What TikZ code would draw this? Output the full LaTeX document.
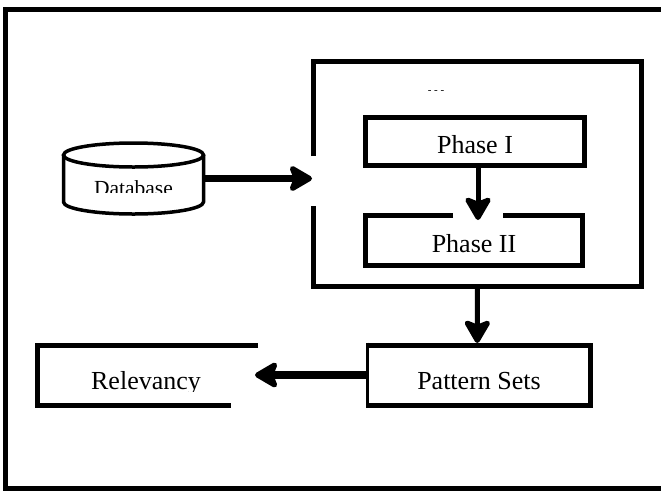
\documentclass[tikz,border=0pt]{standalone}
\usepackage{fontspec}
\setmainfont{Liberation Serif}
\usetikzlibrary{arrows.meta}

\tikzset{
  area/.style={draw=none, inner sep=0pt, outer sep=0pt},
  rim/.style={line width=5pt, line join=miter},
  label/.style={anchor=base, inner sep=0pt, font=\fontsize{26}{30}\selectfont},
  flow/.style={line width=6pt, -{Stealth[length=27pt, width=31pt, inset=6pt, round]}},
}

\begin{document}
\begin{tikzpicture}[x=1pt, y=-1pt]
  \useasboundingbox (0,0) rectangle (661,491);
  \fill[white] (0,0) rectangle (661,491);

  % outer frame (runs off the right side)
  \draw[rim] (661,9) -- (5.5,9) -- (5.5,488.5) -- (661,488.5);

  % --- invisible anchor nodes -------------------------------------------
  \node[area, minimum width=140pt, minimum height=59pt] (db)   at (133.5,184) {};
  \node[area, minimum width=328.5pt, minimum height=225.5pt] (mine) at (477.25,173.75) {};
  \node[area, minimum width=219pt, minimum height=48pt] (ph1)  at (475,141.5) {};
  \node[area, minimum width=217pt, minimum height=50pt] (ph2)  at (474,240.5) {};
  \node[area, minimum width=223pt, minimum height=60pt] (pat)  at (478.5,375) {};
  \node[area, minimum width=218pt, minimum height=60pt] (rel)  at (146,375) {};

  % --- database cylinder ----------------------------------------------------
  \filldraw[fill=white, line width=3.5pt]
    (63.5,155) -- (63.5,202)
    arc[start angle=180, end angle=360, x radius=70pt, y radius=12pt]
    -- (203.5,155);
  \draw[line width=3.5pt] (133.5,155) ellipse[x radius=70pt, y radius=12pt];
  \begin{scope}
    \clip (60,170) rectangle (210,192.5);
    \node[label, font=\fontsize{21.5}{25}\selectfont] (dbtext) at (133.5,195.5) {Database};
  \end{scope}

  % --- outer process box, left side open where the input enters ------------
  \draw[rim] (313,156) -- (313,61) -- (641.5,61) -- (641.5,286.5) -- (313,286.5) -- (313,206);
  \node[anchor=center, inner sep=0pt, font=\fontsize{11}{12}\selectfont] (dots) at (436,92) {- - -};

  % --- phase boxes ----------------------------------------------------------
  \draw[rim] (365.5,117.5) rectangle (584.5,165.5);
  \node[label] (ph1text) at (475,153) {Phase I};

  \draw[rim] (453,215.5) -- (365.5,215.5) -- (365.5,265.5) -- (582.5,265.5) -- (582.5,215.5) -- (503,215.5);
  \node[label] (ph2text) at (474,252) {Phase II};

  % --- pattern sets ---------------------------------------------------------
  \draw[rim] (367,345) -- (590,345) -- (590,405) -- (367,405);
  \draw[line width=3pt] (367,342.5) -- (367,407.5);
  \node[label] (pattext) at (479,389) {Pattern Sets};

  % --- relevancy (open on the right) ---------------------------------------
  \draw[rim] (258,345) -- (37,345) -- (37,405) -- (231,405);
  \begin{scope}
    \clip (40,350) rectangle (255,391);
    \node[label] (reltext) at (146,389) {Relevancy};
  \end{scope}

  % --- connectors -----------------------------------------------------------
  \draw[flow, line width=7pt] ([yshift=5.5pt]db.east) -- ([xshift=-1pt, yshift=-4.75pt]mine.west);
  \draw[flow, line width=5pt] ([xshift=3pt]ph1.south) -- ([xshift=4pt, yshift=-4.5pt]ph2.north);
  \draw[flow, line width=5pt] ([xshift=0.25pt]mine.south) -- ([yshift=2pt]pat.north -| mine.south);
  \draw[flow, line width=8pt] (pat.west) -- (rel.east);
\end{tikzpicture}
\end{document}
